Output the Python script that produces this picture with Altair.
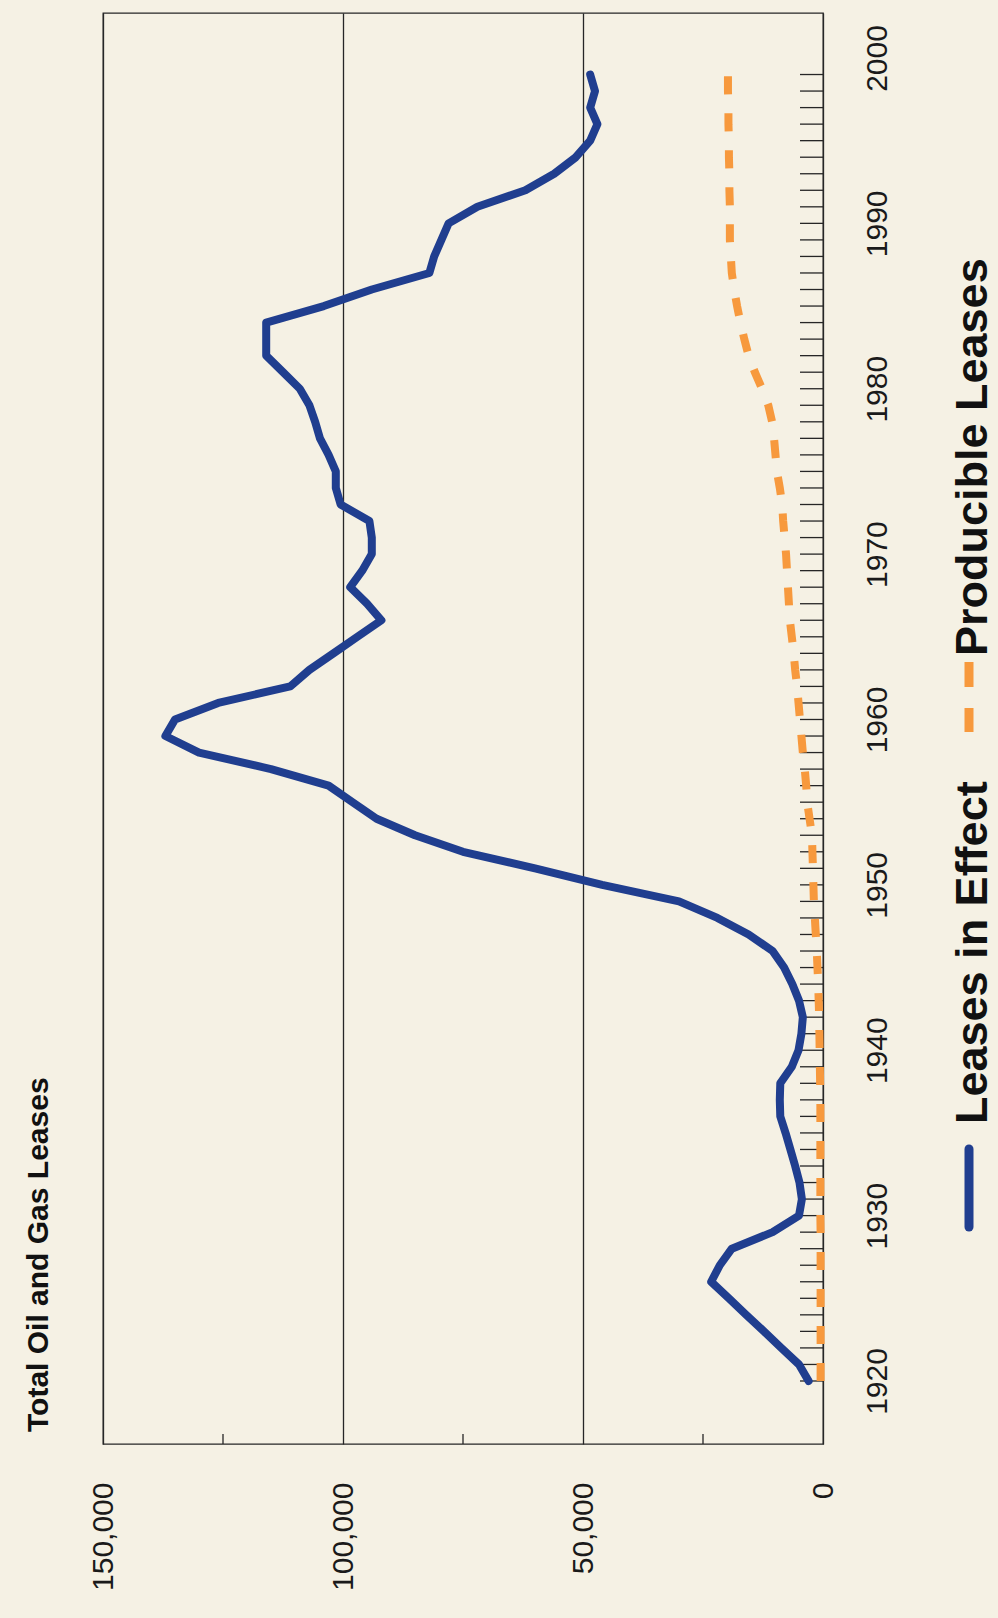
import altair as alt
import pandas as pd

# ---- data -------------------------------------------------------------
years = list(range(1920, 2000))

leases_in_effect = [
    3000, 5000, 8700, 12300, 16000, 19600, 23300, 21500, 19000, 10500,      # 1920s
    5000, 4400, 4900, 5800, 6800, 7800, 8900, 9000, 8900, 6500,             # 1930s
    5100, 4500, 4200, 5000, 6400, 8100, 10500, 15500, 22000, 30000,         # 1940s
    46000, 60000, 75000, 85000, 93000, 98000, 103000, 115000, 130000, 137000,  # 1950s
    135000, 126000, 111000, 107000, 102000, 97000, 92000, 95000, 98500, 96000,  # 1960s
    94000, 94000, 94500, 100500, 101500, 101500, 103000, 104800, 105800, 107000,  # 1970s
    109000, 112500, 116000, 116000, 116000, 104000, 94000, 82000, 81000, 79500,  # 1980s
    78000, 72000, 62000, 56000, 51500, 48500, 47000, 48500, 47500, 48500,   # 1990s
]

producible_leases = [
    500, 500, 500, 500, 500, 500, 500, 500, 500, 500,
    550, 550, 550, 550, 550, 550, 550, 550, 600, 650,
    700, 750, 800, 900, 1000, 1150, 1300, 1500, 1700, 1900,
    2000, 2100, 2200, 2300, 2800, 3300, 3500, 3800, 4200, 4500,
    4800, 5100, 5400, 5800, 6100, 6500, 6900, 7100, 7300, 7500,
    7700, 8000, 8300, 8500, 9000, 9600, 9900, 10200, 10600, 11400,
    12700, 14200, 15500, 16400, 17200, 17900, 18500, 19000, 19200, 19400,
    19400, 19400, 19500, 19500, 19600, 19600, 19700, 19700, 19800, 19800,
]

series_names = ["Leases in Effect", "Producible Leases"]
series_colors = ["#203e8f", "#f7993d"]

value_labels = [0, 50000, 100000, 150000]
value_minor_ticks = [25000, 75000, 125000]
year_labels = list(range(1920, 2001, 10))
title_text = "Total Oil and Gas Leases"

# ---- layout -----------------------------------------------------------
W, H = 720, 1431
BG = "#f5f1e4"
INK = "#262626"
FONT = "Liberation Sans"

df = pd.DataFrame({
    "year": years * 2,
    "value": leases_in_effect + producible_leases,
    "series": [series_names[0]] * len(years) + [series_names[1]] * len(years),
})

x_enc = alt.X(
    "value:Q",
    scale=alt.Scale(domain=[0, 150000], reverse=True, nice=False),
    axis=alt.Axis(
        values=value_labels, format=",d", labelAngle=270, labelAlign="right",
        labelBaseline="middle", labelPadding=38, labelFontSize=30,
        labelFont=FONT, labelColor="#1a1a1a", ticks=False, domain=False,
        grid=True, gridColor=INK, gridWidth=1.3, gridOpacity=1, title=None,
    ),
)
y_enc = alt.Y(
    "year:Q",
    scale=alt.Scale(domain=[1916.19, 2002.72], nice=False, zero=False),
    axis=alt.Axis(
        orient="right", values=year_labels, format="d", labelAngle=270,
        labelAlign="center", labelBaseline="top", labelPadding=39,
        labelFontSize=30, labelFont=FONT, labelColor="#1a1a1a",
        ticks=False, domain=False, grid=False, title=None,
    ),
)

base = alt.Chart(df)

effect_line = base.transform_filter(
    alt.datum.series == series_names[0]
).mark_line(
    color=series_colors[0], strokeWidth=8, strokeJoin="round", strokeCap="round"
).encode(x=x_enc, y=y_enc, order="year:Q")

producible_line = base.transform_filter(
    alt.datum.series == series_names[1]
).mark_line(
    color=series_colors[1], strokeWidth=8, strokeDash=[18, 19], strokeCap="butt"
).encode(x="value:Q", y="year:Q", order="year:Q")

# inward tick marks along the year axis
year_ticks = alt.Chart(pd.DataFrame({"year": years})).mark_rule(
    color=INK, strokeWidth=1.3
).encode(y="year:Q", x=alt.value(W - 23), x2=alt.value(W))

# inward minor ticks along the value axis
value_ticks = alt.Chart(pd.DataFrame({"value": value_minor_ticks})).mark_rule(
    color=INK, strokeWidth=1.3
).encode(x="value:Q", y=alt.value(H - 10), y2=alt.value(H))

# rotated title
title = alt.Chart(pd.DataFrame({"t": [title_text]})).mark_text(
    angle=270, align="left", baseline="alphabetic", fontSize=30,
    fontWeight="bold", font=FONT, color="#111111"
).encode(text="t:N", x=alt.value(-55), y=alt.value(1419))

# hand-built legend, rotated like the rest of the figure
leg_effect_sym = alt.Chart(pd.DataFrame({"s": [series_names[0]]})).mark_rule(
    color=series_colors[0], strokeWidth=9, strokeCap="round"
).encode(x=alt.value(866), y=alt.value(1136), y2=alt.value(1214))
leg_effect_txt = alt.Chart(pd.DataFrame({"s": [series_names[0]]})).mark_text(
    angle=270, align="left", baseline="alphabetic", fontSize=45,
    fontWeight="bold", font=FONT, color="#111111"
).encode(text="s:N", x=alt.value(884), y=alt.value(1111))

leg_prod_sym = alt.Chart(pd.DataFrame({"s": [series_names[1]]})).mark_rule(
    color=series_colors[1], strokeWidth=9, strokeDash=[25, 21]
).encode(x=alt.value(866), y=alt.value(649), y2=alt.value(719))
leg_prod_txt = alt.Chart(pd.DataFrame({"s": [series_names[1]]})).mark_text(
    angle=270, align="left", baseline="alphabetic", fontSize=45,
    fontWeight="bold", font=FONT, color="#111111"
).encode(text="s:N", x=alt.value(884), y=alt.value(643))

chart = alt.layer(
    year_ticks, value_ticks, producible_line, effect_line, title,
    leg_effect_sym, leg_effect_txt, leg_prod_sym, leg_prod_txt,
).properties(
    width=W, height=H,
    autosize=alt.AutoSizeParams(type="none"),
    padding={"left": 103, "top": 13, "right": 175, "bottom": 174},
    background=BG,
).configure_view(
    stroke=INK, strokeWidth=1.3, fill=BG
)

chart.save("out.html", embed_options={"renderer": "svg", "actions": False})
